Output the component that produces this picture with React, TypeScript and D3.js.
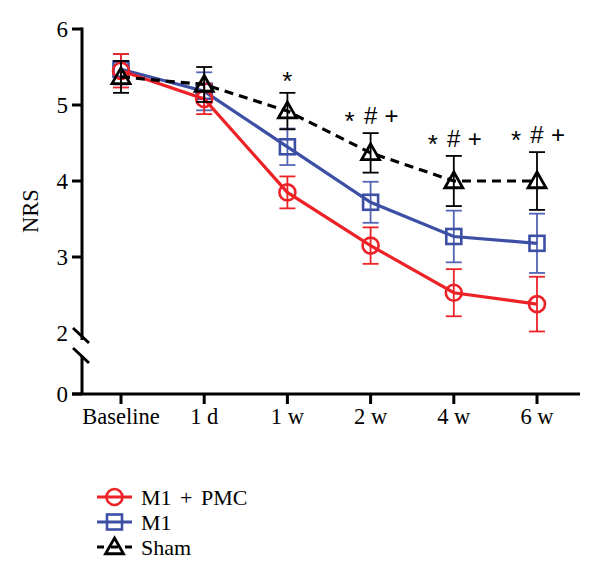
import React from "react";
import * as d3 from "d3";

// Time points on the x axis
const timePoints = ["Baseline", "1 d", "1 w", "2 w", "4 w", "6 w"];

// Mean NRS and error (SD) per group
const m1pmcMean = [5.45, 5.08, 3.85, 3.15, 2.53, 2.38];
const m1pmcErr = [0.22, 0.2, 0.21, 0.24, 0.31, 0.36];
const m1Mean = [5.47, 5.18, 4.45, 3.72, 3.27, 3.18];
const m1Err = [0.2, 0.25, 0.24, 0.27, 0.34, 0.39];
const shamMean = [5.37, 5.27, 4.92, 4.37, 4.0, 4.0];
const shamErr = [0.21, 0.23, 0.24, 0.26, 0.33, 0.38];

// Significance marks above the Sham group
const sigMarks = [[], [], ["*"], ["*", "#", "+"], ["*", "#", "+"], ["*", "#", "+"]];

const upperTicks = [2, 3, 4, 5, 6];
const lowerTicks = [0];

const W = 600;
const H = 570;
const FONT = "'Liberation Serif', 'Times New Roman', serif";

const RED = "#ec2227";
const BLUE = "#3c4fa5";
const BLUE_ERR = "#5565b5";
const BLACK = "#000000";

const axisX = 82;
const axisY = 394;

export default function App() {
  const x = d3
    .scalePoint<string>()
    .domain(timePoints)
    .range([121, 537]);

  // Upper (broken) segment: 2..6
  const y = d3.scaleLinear().domain([2, 6]).range([333, 29]);
  // Lower segment near zero
  const yLow = d3.scaleLinear().domain([0, 1]).range([axisY, 370]);

  type Series = {
    name: string;
    mean: number[];
    err: number[];
    color: string;
    errColor: string;
    dash?: string;
    marker: "circle" | "square" | "triangle";
  };

  const series: Series[] = [
    { name: "M1", mean: m1Mean, err: m1Err, color: BLUE, errColor: BLUE_ERR, marker: "square" },
    { name: "M1 + PMC", mean: m1pmcMean, err: m1pmcErr, color: RED, errColor: RED, marker: "circle" },
    { name: "Sham", mean: shamMean, err: shamErr, color: BLACK, errColor: BLACK, dash: "9,6", marker: "triangle" },
  ];

  const legendOrder = ["M1 + PMC", "M1", "Sham"];

  const line = d3
    .line<number>()
    .x((_, i) => x(timePoints[i])!)
    .y((d) => y(d));

  const marker = (kind: Series["marker"], cx: number, cy: number, color: string, key?: string) => {
    if (kind === "circle") {
      return <circle key={key} cx={cx} cy={cy} r={8} fill="none" stroke={color} strokeWidth={2.6} />;
    }
    if (kind === "square") {
      return (
        <rect key={key} x={cx - 7.5} y={cy - 7.5} width={15} height={15} fill="none" stroke={color} strokeWidth={2.6} />
      );
    }
    const s = 9;
    const p = `M${cx},${cy - s} L${cx + s},${cy + s * 0.75} L${cx - s},${cy + s * 0.75} Z`;
    return <path key={key} d={p} fill="none" stroke={color} strokeWidth={2.8} strokeLinejoin="miter" />;
  };

  const capW = 8;

  return (
    <svg
      width={W}
      height={H}
      style={{ position: "absolute", left: 0, top: 0, background: "#fff" }}
      fontFamily={FONT}
    >
      <rect width={W} height={H} fill="#fff" />

      {/* Y axis upper segment */}
      <line x1={axisX} x2={axisX} y1={y(6) - 1.5} y2={340} stroke="#000" strokeWidth={3} />
      {/* Y axis lower segment */}
      <line x1={axisX} x2={axisX} y1={356} y2={axisY} stroke="#000" strokeWidth={3} />
      {/* Break marks */}
      <line x1={73} y1={328} x2={89} y2={343} stroke="#000" strokeWidth={3} />
      <line x1={73} y1={348} x2={89} y2={363} stroke="#000" strokeWidth={3} />

      {upperTicks.map((t) => (
        <g key={`yt${t}`}>
          {t !== 2 && <line x1={72} x2={axisX} y1={y(t)} y2={y(t)} stroke="#000" strokeWidth={3} />}
          <text x={68} y={y(t)} textAnchor="end" dominantBaseline="central" fontSize={23}>
            {t}
          </text>
        </g>
      ))}
      {lowerTicks.map((t) => (
        <g key={`ylt${t}`}>
          <line x1={72} x2={axisX} y1={yLow(t)} y2={yLow(t)} stroke="#000" strokeWidth={3} />
          <text x={68} y={yLow(t)} textAnchor="end" dominantBaseline="central" fontSize={23}>
            {t}
          </text>
        </g>
      ))}

      {/* X axis */}
      <line x1={72} x2={580} y1={axisY} y2={axisY} stroke="#000" strokeWidth={3} />
      {timePoints.map((tp) => (
        <g key={tp}>
          <line x1={x(tp)!} x2={x(tp)!} y1={axisY} y2={axisY + 10} stroke="#000" strokeWidth={3} />
          <text x={x(tp)!} y={axisY + 30} textAnchor="middle" fontSize={22.5}>
            {tp}
          </text>
        </g>
      ))}

      {/* Y axis title */}
      <text
        transform={`translate(30, ${y(4) + 30}) rotate(-90)`}
        textAnchor="middle"
        dominantBaseline="central"
        fontSize={22.5}
      >
        NRS
      </text>

      {/* Series: error bars, lines, markers */}
      {series.map((s) => (
        <g key={s.name}>
          {s.mean.map((m, i) => {
            const cx = x(timePoints[i])!;
            const top = y(m + s.err[i]);
            const bot = y(m - s.err[i]);
            return (
              <g key={i} stroke={s.errColor} strokeWidth={1.8}>
                <line x1={cx} x2={cx} y1={top} y2={bot} />
                <line x1={cx - capW} x2={cx + capW} y1={top} y2={top} />
                <line x1={cx - capW} x2={cx + capW} y1={bot} y2={bot} />
              </g>
            );
          })}
          <path d={line(s.mean)!} fill="none" stroke={s.color} strokeWidth={3.2} strokeDasharray={s.dash} />
          {s.mean.map((m, i) => marker(s.marker, x(timePoints[i])!, y(m), s.color, `${s.name}-m${i}`))}
        </g>
      ))}

      {/* Significance marks */}
      {sigMarks.map((marks, i) => {
        const cx = x(timePoints[i])!;
        const topCap = y(shamMean[i] + shamErr[i]);
        const n = marks.length;
        return marks.map((mk, j) => {
          const off = n === 1 ? 0 : (j - (n - 1) / 2) * 21;
          const isStar = mk === "*";
          return (
            <text
              key={`sig${i}-${j}`}
              x={cx + off}
              y={topCap - (isStar ? 3 : 9)}
              textAnchor="middle"
              fontSize={isStar ? 26 : 24}
              fontFamily="'Liberation Sans', Arial, sans-serif"
            >
              {mk}
            </text>
          );
        });
      })}

      {/* Legend */}
      {legendOrder.map((name, k) => {
        const s = series.find((q) => q.name === name)!;
        const ly = 497 + k * 25;
        return (
          <g key={`lg${name}`}>
            <line
              x1={97}
              x2={132}
              y1={ly}
              y2={ly}
              stroke={s.color}
              strokeWidth={3.2}
              strokeDasharray={s.dash ? "7,7" : undefined}
            />
            {marker(s.marker, 114.5, ly, s.color)}
            <text x={141} y={ly} dominantBaseline="central" fontSize={22} wordSpacing={3}>
              {name}
            </text>
          </g>
        );
      })}
    </svg>
  );
}
